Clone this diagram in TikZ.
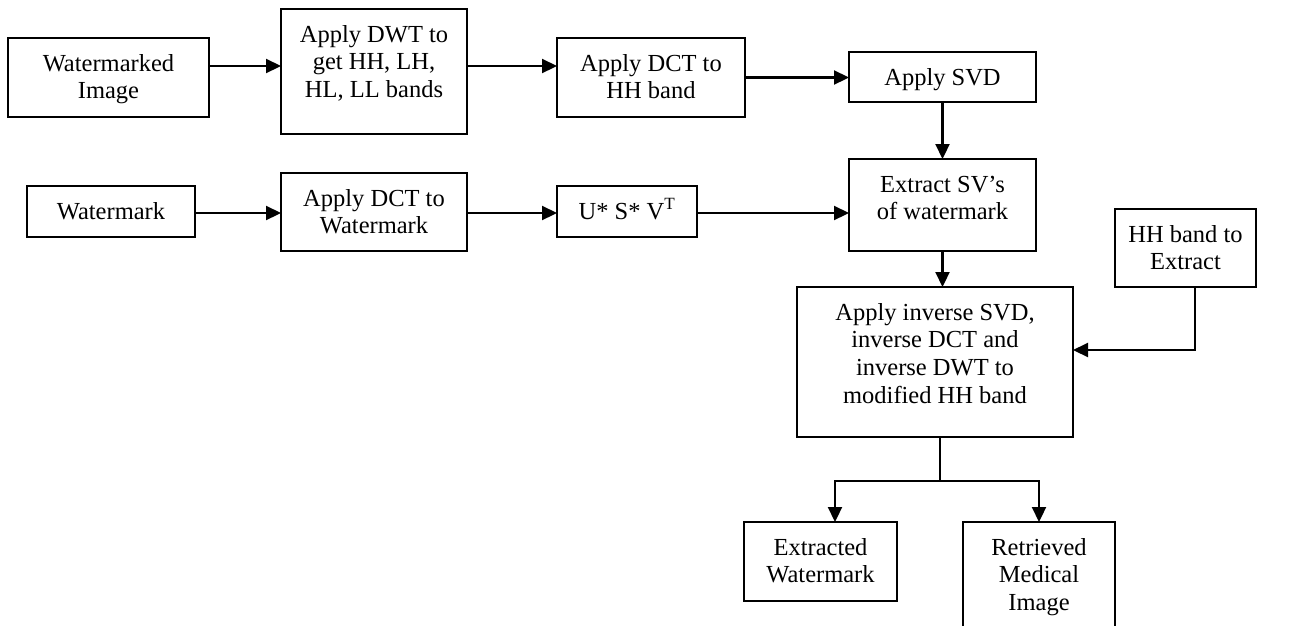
\documentclass[tikz,border=0pt]{standalone}
\usepackage{fontspec}
\setmainfont{Liberation Serif}
\usetikzlibrary{arrows.meta,calc}
\newcommand{\mybox}[6]{%
  \node[boxst, anchor=north west] (#1) at (#2,#3)
    {\parbox[t][\dimexpr #5pt-#3pt\relax][t]{\dimexpr #4pt-#2pt\relax}{\centering\rule{0pt}{33pt}#6\par}};%
}
\begin{document}
\begin{tikzpicture}[x=1pt,y=-1pt,
  boxst/.style={draw, line width=1.6pt, inner sep=0pt, outer sep=0pt, font=\fontsize{24.5}{27.7}\selectfont},
  arr/.style={line width=2.2pt, -{Triangle[length=15pt,width=14pt]}},
  conn/.style={line width=1.5pt}]
\useasboundingbox (0,0) rectangle (1293,625);
\mybox{wi}{8}{38}{209}{117}{Watermarked\\Image}
\mybox{dwt}{281}{9}{467}{134}{Apply DWT to\\get HH, LH,\\HL, LL bands}
\mybox{dcth}{557}{38}{745}{117}{Apply DCT to\\HH band}
\mybox{svd}{849}{52}{1036}{102}{Apply SVD}
\mybox{wm}{27}{186}{195}{237}{Watermark}
\mybox{dctw}{281}{173}{467}{251}{Apply DCT to\\Watermark}
\mybox{usv}{557}{186}{697}{237}{U* S* V\textsuperscript{T}}
\mybox{ext}{849}{159}{1036}{251}{Extract SV’s\\of watermark}
\mybox{hh}{1115}{209}{1256}{287}{HH band to\\Extract}
\mybox{inv}{797}{287}{1073}{437}{Apply inverse SVD,\\inverse DCT and\\inverse DWT to\\modified HH band}
\mybox{exw}{744}{522}{897}{601}{Extracted\\Watermark}
\mybox{ret}{963}{522}{1115}{640}{Retrieved\\Medical\\Image}
% helper coordinates
\coordinate (r1) at (0,66);
\coordinate (r2) at (0,213);
\coordinate (h1) at (1195,350);
\coordinate (j) at (940,481);
\coordinate (jl) at (835,481);
% connectors
\draw[arr] (wi.east |- r1) -- (dwt.west |- r1);
\draw[arr] (dwt.east |- r1) -- (dcth.west |- r1);
\draw[arr] (dcth.east) -- (dcth.east -| svd.west);
\draw[arr] (svd.south) -- (svd.south |- ext.north);
\draw[arr] (wm.east |- r2) -- (dctw.west |- r2);
\draw[arr] (dctw.east |- r2) -- (usv.west |- r2);
\draw[arr] (usv.east |- r2) -- (ext.west |- r2);
\draw[arr] (ext.south) -- (ext.south |- inv.north);
\draw[arr] (hh.south -| h1) -- (h1) -- (inv.east |- h1);
\draw[conn] (inv.south -| j) -- (j);
\draw[arr] (j) -| (jl |- exw.north);
\draw[arr] (j) -| (ret.north);
\end{tikzpicture}
\end{document}
